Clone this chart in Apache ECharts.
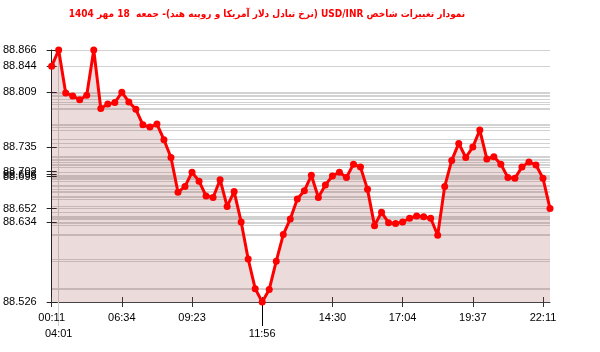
<!DOCTYPE html>
<html>
<head>
<meta charset="utf-8">
<script src="https://cdn.jsdelivr.net/npm/echarts@6/dist/echarts.min.js"></script>
<style>html,body{margin:0;padding:0;background:#fff}#c{width:600px;height:352px}</style>
</head>
<body>
<div id="c"></div>
<script>
const titleText = 'نمودار تغییرات شاخص USD/INR (نرخ تبادل دلار آمریکا و روپیه هند)- جمعه  18 مهر 1404';
const values = [
  88.844, 88.866, 88.808, 88.804, 88.799, 88.805, 88.866, 88.787, 88.793, 88.795,
  88.809, 88.796, 88.786, 88.765, 88.762, 88.766, 88.745, 88.721, 88.674, 88.682,
  88.701, 88.689, 88.669, 88.667, 88.691, 88.655, 88.675, 88.634, 88.584, 88.544,
  88.526, 88.543, 88.581, 88.617, 88.638, 88.665, 88.676, 88.697, 88.667, 88.684,
  88.696, 88.701, 88.694, 88.712, 88.708, 88.678, 88.629, 88.647, 88.633, 88.632,
  88.634, 88.639, 88.642, 88.641, 88.639, 88.616, 88.682, 88.717, 88.740, 88.721,
  88.735, 88.758, 88.719, 88.722, 88.712, 88.694, 88.693, 88.708, 88.715, 88.711,
  88.693, 88.652
];
const labelIndex = [0, 10, 20, 40, 50, 60, 70];
const labelText = ['00:11', '06:34', '09:23', '14:30', '17:04', '19:37', '22:11'];
const maxIndex = 1, maxLabel = '04:01';
const minIndex = 30, minLabel = '11:56';
const yTicks = [88.526, 88.634, 88.652, 88.695, 88.698, 88.702, 88.735, 88.809, 88.844, 88.866];
const yMin = 88.526, yMax = 88.866;

const cats = values.map((_, i) => String(i));
const labelMap = {};
labelIndex.forEach((i, k) => { labelMap[i] = labelText[k]; });
const font = 'Liberation Sans';
const tickIdx = labelIndex.concat([minIndex]);

function catAxis(extra) {
  return Object.assign({
    type: 'category', data: cats, boundaryGap: false, position: 'bottom',
    axisLine: { show: false }, axisTick: { show: false }, axisLabel: { show: false },
    splitLine: { show: false }
  }, extra);
}
function valAxis(extra) {
  return Object.assign({
    type: 'value', min: yMin, max: yMax, position: 'left',
    axisLine: { show: false }, axisTick: { show: false }, axisLabel: { show: false },
    splitLine: { show: false }
  }, extra);
}

const chart = echarts.init(document.getElementById('c'), null, { renderer: 'canvas' });
chart.setOption({
  animation: false,
  graphic: [{
    type: 'text', x: 267, y: 14,
    style: {
      text: '\u202B' + titleText + '\u202C',
      align: 'center', verticalAlign: 'middle',
      fill: '#ff0000', fontSize: 10, fontWeight: 'bold', fontFamily: 'DejaVu Sans Condensed'
    }
  }],
  grid: { left: 50, right: 50, top: 50, bottom: 50 },
  xAxis: [
    catAxis({
      axisLine: { show: true, lineStyle: { color: '#444', width: 1 } },
      axisTick: { show: true, length: 5, interval: (i) => tickIdx.indexOf(i) >= 0, lineStyle: { color: '#333' } },
      axisLabel: { show: true, interval: (i) => labelMap[i] !== undefined, formatter: (v, i) => labelMap[i] || '',
        color: '#000', fontSize: 11, fontFamily: font, margin: 10 }
    }),
    catAxis({
      axisTick: { show: true, inside: true, length: 5, interval: (i) => tickIdx.indexOf(i) >= 0, lineStyle: { color: '#333' } }
    }),
    catAxis({
      splitLine: { show: true, interval: (i) => i === maxIndex, lineStyle: { color: '#cfcfcf', width: 1 } },
      axisTick: { show: true, length: 24, interval: (i) => i === maxIndex, lineStyle: { color: '#cfcfcf' } },
      axisLabel: { show: true, interval: (i) => i === maxIndex, formatter: () => maxLabel,
        color: '#000', fontSize: 11, fontFamily: font, margin: 26 }
    }),
    catAxis({
      axisTick: { show: true, length: 24, interval: (i) => i === minIndex, lineStyle: { color: '#000' } },
      axisLabel: { show: true, interval: (i) => i === minIndex, formatter: () => minLabel,
        color: '#000', fontSize: 11, fontFamily: font, margin: 26 }
    })
  ],
  yAxis: [
    valAxis({
      axisLine: { show: true, lineStyle: { color: '#222' } },
      axisTick: { show: true, length: 5, customValues: yTicks, lineStyle: { color: '#222' } },
      axisLabel: { show: true, customValues: yTicks, formatter: (v) => Number(v).toFixed(3),
        color: '#000', fontSize: 11, fontFamily: font, margin: 15, padding: [0, 0, 6, 0] }
    }),
    valAxis({
      axisTick: { show: true, inside: true, length: 5, customValues: yTicks, lineStyle: { color: '#222' } }
    }),
    valAxis({
      axisTick: { show: false, customValues: values.slice() },
      splitLine: { show: true, lineStyle: { color: '#d2d2d2', width: 1 } }
    })
  ],
  series: [{
    type: 'line',
    data: values,
    xAxisIndex: 0, yAxisIndex: 0,
    symbol: 'circle', symbolSize: 7, showSymbol: true, showAllSymbol: true,
    lineStyle: { color: '#ff0000', width: 3 },
    itemStyle: { color: '#ff0000' },
    areaStyle: { color: 'rgba(150,50,50,0.25)', origin: 'start' },
    z: 3
  }]
});
</script>
</body>
</html>
